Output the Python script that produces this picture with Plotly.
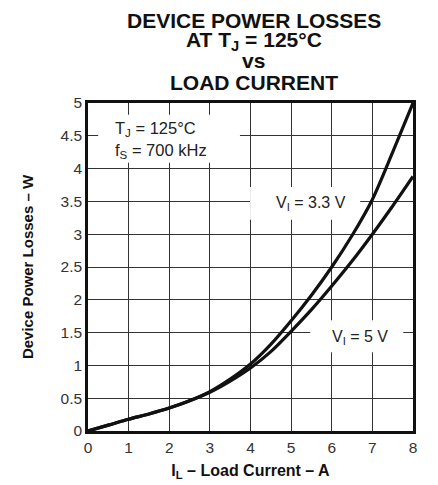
import plotly.graph_objects as go

load_current = [0, 0.5, 1, 1.5, 2, 2.5, 3, 3.5, 4, 4.5, 5, 5.5, 6, 6.5, 7, 7.5, 8]
loss_3v3 = [0, 0.09, 0.18, 0.26, 0.35, 0.46, 0.60, 0.79, 1.02, 1.32, 1.68, 2.07, 2.50, 2.98, 3.53, 4.25, 5.0]
loss_5v = [0, 0.09, 0.18, 0.26, 0.35, 0.46, 0.59, 0.76, 0.96, 1.21, 1.52, 1.85, 2.21, 2.59, 3.00, 3.43, 3.88]

x_ticks = [0, 1, 2, 3, 4, 5, 6, 7, 8]
y_ticks = [0, 0.5, 1, 1.5, 2, 2.5, 3, 3.5, 4, 4.5, 5]
y_tick_labels = ["0", "0.5", "1", "1.5", "2", "2.5", "3", "3.5", "4", "4.5", "5"]
title_lines = ["DEVICE POWER LOSSES", "AT T<sub>J</sub> = 125°C", "vs", "LOAD CURRENT"]

FONT = "Liberation Sans, Arial, sans-serif"
INK = "#111111"

fig = go.Figure()
for ys in (loss_3v3, loss_5v):
    fig.add_trace(go.Scatter(x=load_current, y=ys, mode="lines",
                             line=dict(color=INK, width=3.2, shape="spline", smoothing=0.8),
                             showlegend=False, hoverinfo="skip"))

# page body has an 8px margin
fig.update_layout(
    width=422, height=477,
    margin=dict(l=80, r=17, t=95, b=54, autoexpand=False),
    paper_bgcolor="white", plot_bgcolor="white",
    font=dict(family=FONT, color=INK),
)
fig.update_xaxes(
    range=[0, 8], tickvals=x_ticks, ticks="", showgrid=True, automargin=False,
    gridcolor="#333333", gridwidth=1.3, zeroline=False,
    showline=True, linecolor=INK, linewidth=2.6, mirror=True,
    tickfont=dict(size=15.5, color="#333333"), ticklabelstandoff=1,
    title=dict(text="<b>I<sub>L</sub> – Load Current – A</b>", font=dict(size=16, color=INK), standoff=10),
)
fig.update_yaxes(
    range=[0, 5], tickvals=y_ticks, ticktext=y_tick_labels, ticks="", showgrid=True, automargin=False,
    gridcolor="#333333", gridwidth=1.3, zeroline=False,
    showline=True, linecolor=INK, linewidth=2.6, mirror=True,
    tickfont=dict(size=15.5, color="#333333"),
    title=dict(text="<b>Device Power Losses – W</b>", font=dict(size=15, color=INK), standoff=24),
)

# title, one annotation per line for tight line spacing
title_shifts = [83, 62, 43, 21]
for txt, sh in zip(title_lines, title_shifts):
    fig.add_annotation(x=0.5, y=1, xref="paper", yref="paper", yanchor="middle",
                       xshift=3, yshift=sh, showarrow=False, text="<b>" + txt + "</b>",
                       font=dict(size=21, color=INK))

# white label boxes interrupting the grid
fig.add_shape(type="rect", xref="x", yref="y", x0=0.25, x1=3.74, y0=4.09, y1=4.82,
              fillcolor="white", line=dict(width=0), layer="between")
fig.add_shape(type="rect", xref="x", yref="y", x0=3.99, x1=6.7, y0=3.22, y1=3.72,
              fillcolor="white", line=dict(width=0), layer="between")
fig.add_shape(type="rect", xref="x", yref="y", x0=5.47, x1=7.76, y0=1.20, y1=1.69,
              fillcolor="white", line=dict(width=0), layer="between")

fig.add_annotation(x=0.62, y=4.60, xref="x", yref="y", xanchor="left", showarrow=False,
                   text="T<sub>J</sub> = 125°C", font=dict(size=16.5, color="#222222"))
fig.add_annotation(x=0.62, y=4.27, xref="x", yref="y", xanchor="left", showarrow=False,
                   text="f<sub>S</sub> = 700 kHz", font=dict(size=16.5, color="#222222"))
fig.add_annotation(x=5.49, y=3.47, xref="x", yref="y", showarrow=False,
                   text="V<sub>I</sub> = 3.3 V", font=dict(size=16, color="#222222"))
fig.add_annotation(x=6.7, y=1.43, xref="x", yref="y", showarrow=False,
                   text="V<sub>I</sub> = 5 V", font=dict(size=16, color="#222222"))

fig.write_html("out.html")
